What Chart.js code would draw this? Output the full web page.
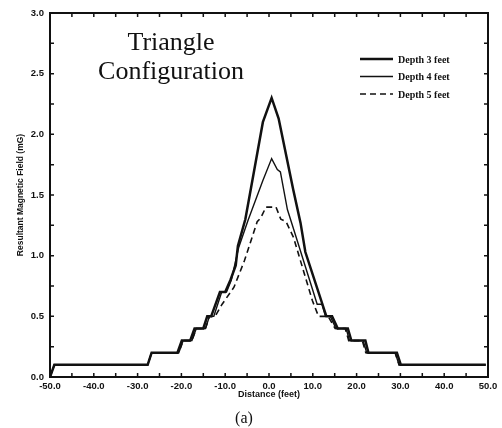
<!DOCTYPE html>
<html>
<head>
<meta charset="utf-8">
<script src="https://cdn.jsdelivr.net/npm/chart.js@4.4.1/dist/chart.umd.min.js"></script>
<style>
  html, body { margin: 0; padding: 0; background: #fff; }
  #wrap { position: relative; width: 502px; height: 428px; }
</style>
</head>
<body>
<div id="wrap"><canvas id="fieldChart" width="502" height="428"></canvas></div>
<script>
// distance (feet), field (mG) pairs
var depth3 = [[-50, 0], [-49, 0.1], [-27.7, 0.1], [-26.8, 0.2], [-20.9, 0.2], [-19.9, 0.3], [-18, 0.3], [-17, 0.4],
    [-15, 0.4], [-14.1, 0.5], [-13.2, 0.5], [-11.2, 0.7], [-10, 0.7], [-8.8, 0.8], [-7.6, 0.92], [-7.1, 1.08],
    [-5.4, 1.3], [-3.8, 1.62], [-1.4, 2.1], [0.6, 2.3], [2.2, 2.13], [5.5, 1.55], [7.2, 1.27], [8.3, 1.03],
    [13.1, 0.5], [14.4, 0.5], [15.7, 0.4], [18, 0.4], [18.8, 0.3], [22, 0.3], [22.7, 0.2], [29.2, 0.2],
    [30.1, 0.1], [49.5, 0.1]];
var depth4 = [[-50, 0], [-49, 0.1], [-27.7, 0.1], [-26.8, 0.2], [-20.6, 0.2], [-19.6, 0.3], [-17.6, 0.3], [-16.6, 0.4],
    [-14.5, 0.4], [-13.6, 0.5], [-12.6, 0.5], [-10.8, 0.7], [-9.7, 0.7], [-8.6, 0.8], [-6.9, 1.07], [-4.8, 1.29],
    [-1.4, 1.62], [0.6, 1.8], [1.9, 1.71], [2.6, 1.69], [4.2, 1.38], [5.7, 1.21], [11, 0.6], [12.1, 0.6],
    [12.9, 0.5], [14, 0.5], [15.3, 0.4], [17.6, 0.4], [18.4, 0.3], [21.5, 0.3], [22.3, 0.2], [28.8, 0.2],
    [29.7, 0.1], [49.5, 0.1]];
var depth5 = [[-50, 0], [-49, 0.1], [-27.7, 0.1], [-26.8, 0.2], [-20.6, 0.2], [-19.6, 0.3], [-17.6, 0.3], [-16.6, 0.4],
    [-14.5, 0.4], [-13.6, 0.5], [-12.3, 0.5], [-10.7, 0.6], [-8, 0.74], [-5.6, 0.96], [-2.7, 1.28], [-1.9, 1.31],
    [-0.7, 1.4], [1.6, 1.4], [2.7, 1.3], [3.9, 1.28], [5.6, 1.15], [9.9, 0.63], [11.3, 0.5], [13.5, 0.5],
    [15.1, 0.4], [17.4, 0.4], [18.2, 0.3], [21.3, 0.3], [22.1, 0.2], [28.8, 0.2], [29.7, 0.1], [49.5, 0.1]];

var seriesNames = ['Depth 3 feet', 'Depth 4 feet', 'Depth 5 feet'];
var xTicks = [-50, -45, -40, -35, -30, -25, -20, -15, -10, -5, 0, 5, 10, 15, 20, 25, 30, 35, 40, 45, 50];
var yTicks = [0, 0.25, 0.5, 0.75, 1, 1.25, 1.5, 1.75, 2, 2.25, 2.5, 2.75, 3];
var titleLines = ['Triangle', 'Configuration'];

var ink = '#111';

function toPoints(pairs) {
    return pairs.map(function (p) { return { x: p[0], y: p[1] }; });
}

// box, inward ticks, legend and free text
var decorPlugin = {
    id: 'decor',
    afterDatasetsDraw: function (chart) {
        var ctx = chart.ctx;
        var area = chart.chartArea;
        var xs = chart.scales.x;
        var ys = chart.scales.y;
        ctx.save();
        ctx.strokeStyle = ink;
        ctx.lineWidth = 2;
        ctx.strokeRect(area.left, area.top, area.right - area.left, area.bottom - area.top);

        ctx.lineWidth = 1.5;
        ctx.beginPath();
        xTicks.forEach(function (v) {
            var px = xs.getPixelForValue(v);
            ctx.moveTo(px, area.bottom); ctx.lineTo(px, area.bottom - 4);
            ctx.moveTo(px, area.top); ctx.lineTo(px, area.top + 4);
        });
        yTicks.forEach(function (v) {
            var py = ys.getPixelForValue(v);
            ctx.moveTo(area.left, py); ctx.lineTo(area.left + 4, py);
            ctx.moveTo(area.right, py); ctx.lineTo(area.right - 4, py);
        });
        ctx.stroke();

        // legend
        ctx.font = 'bold 10px "Liberation Serif", serif';
        ctx.textBaseline = 'middle';
        ctx.fillStyle = ink;
        chart.data.datasets.forEach(function (ds, i) {
            var y = 59 + i * 17.5;
            ctx.beginPath();
            ctx.lineWidth = ds.borderWidth;
            ctx.setLineDash(ds.borderDash || []);
            ctx.moveTo(360, y);
            ctx.lineTo(393, y);
            ctx.stroke();
            ctx.setLineDash([]);
            ctx.fillText(ds.label, 398, y + 1);
        });

        // axis titles
        ctx.font = 'bold 9px "Liberation Sans", Arial, sans-serif';
        ctx.textAlign = 'center';
        ctx.fillText('Distance (feet)', (area.left + area.right) / 2, 395);
        ctx.save();
        ctx.translate(21, 195);
        ctx.rotate(-Math.PI / 2);
        ctx.font = 'bold 8.5px "Liberation Sans", Arial, sans-serif';
        ctx.fillText('Resultant Magnetic Field (mG)', 0, 0);
        ctx.restore();

        ctx.textBaseline = 'alphabetic';
        ctx.font = '26px "Liberation Serif", serif';
        ctx.fillText(titleLines[0], 171, 50);
        ctx.fillText(titleLines[1], 171, 79);

        ctx.font = '16px "Liberation Serif", serif';
        ctx.fillText('(a)', 244, 423);
        ctx.restore();
    }
};

var tickFont = { family: '"Liberation Sans", Arial, sans-serif', size: 9.5, weight: 'bold' };

new Chart(document.getElementById('fieldChart').getContext('2d'), {
    type: 'scatter',
    data: {
        datasets: [{
            label: seriesNames[0],
            data: toPoints(depth3),
            showLine: true,
            borderColor: ink,
            borderWidth: 2.5,
            pointRadius: 0,
            tension: 0
        }, {
            label: seriesNames[1],
            data: toPoints(depth4),
            showLine: true,
            borderColor: ink,
            borderWidth: 1.4,
            pointRadius: 0,
            tension: 0
        }, {
            label: seriesNames[2],
            data: toPoints(depth5),
            showLine: true,
            borderColor: ink,
            borderWidth: 1.6,
            borderDash: [6, 4],
            pointRadius: 0,
            tension: 0
        }]
    },
    options: {
        responsive: false,
        animation: false,
        devicePixelRatio: 1,
        layout: { padding: { left: 0, right: 14, top: 13, bottom: 0 } },
        plugins: {
            legend: { display: false },
            tooltip: { enabled: false }
        },
        scales: {
            x: {
                type: 'linear',
                min: -50,
                max: 50,
                grid: { display: false, drawTicks: false },
                border: { display: false },
                afterBuildTicks: function (scale) {
                    scale.ticks = xTicks.filter(function (v) { return v % 10 === 0; }).map(function (v) { return { value: v }; });
                },
                afterFit: function (scale) { scale.height = 51; },
                ticks: {
                    color: ink,
                    font: tickFont,
                    padding: 4,
                    maxRotation: 0,
                    autoSkip: false,
                    callback: function (value) { return value.toFixed(1); }
                }
            },
            y: {
                type: 'linear',
                min: 0,
                max: 3,
                grid: { display: false, drawTicks: false },
                border: { display: false },
                afterBuildTicks: function (scale) {
                    scale.ticks = yTicks.filter(function (v) { return (v * 2) % 1 === 0; }).map(function (v) { return { value: v }; });
                },
                afterFit: function (scale) { scale.width = 50; },
                ticks: {
                    color: ink,
                    font: tickFont,
                    padding: 6,
                    autoSkip: false,
                    callback: function (value) { return value.toFixed(1); }
                }
            }
        }
    },
    plugins: [decorPlugin]
});
</script>
</body>
</html>
